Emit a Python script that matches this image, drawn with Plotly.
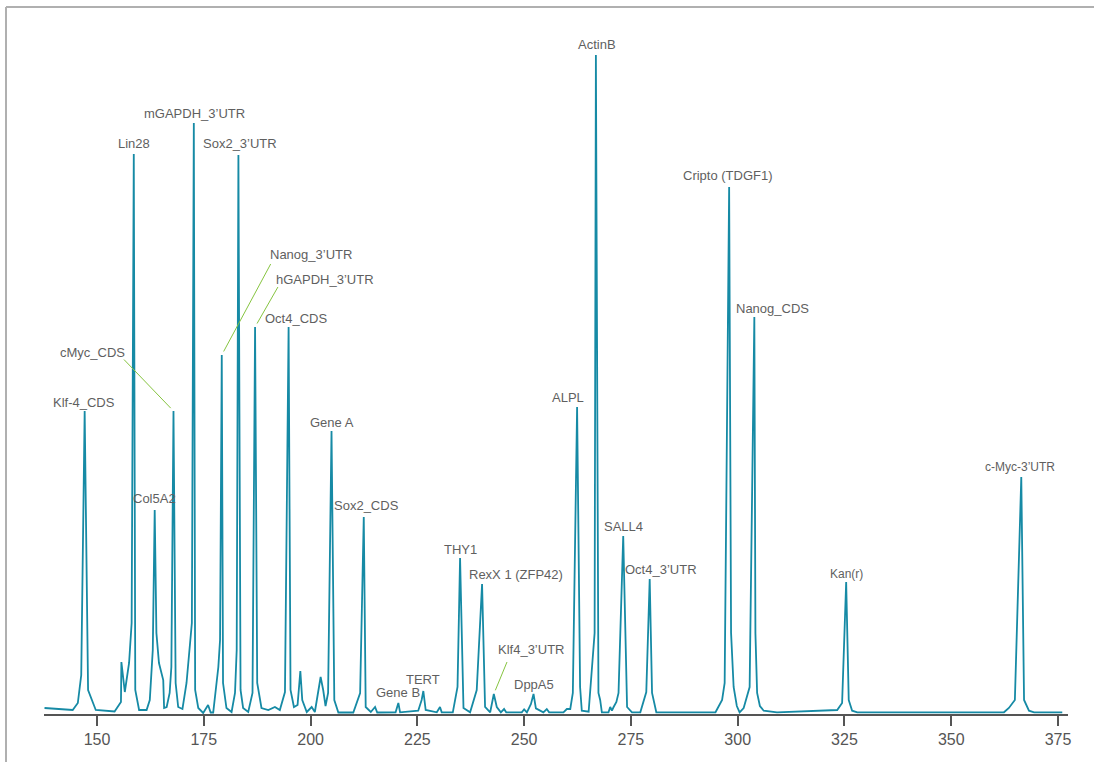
import plotly.graph_objects as go
import numpy as np

# Trace (size in bp vs. signal)
size_bp = [137.7, 144.3, 145.5, 146.3, 147.1, 147.9, 149.7, 154.1, 155.6, 155.7, 156.5, 157.5, 158.1, 158.6,
           158.95, 159.85, 161.6, 162.35, 163.05, 163.5, 163.9, 164.5, 165.5, 165.7, 166.3, 167.0, 167.4, 167.9,
           168.4, 169.0, 170.0, 170.95, 172.2, 172.66, 172.97, 173.7, 174.85, 176.0, 176.6, 177.2, 178.4, 178.8,
           179.2, 179.5, 180.3, 181.5, 182.3, 182.7, 183.1, 183.6, 184.2, 185.4, 186.4, 187.0, 187.5, 188.5,
           190.1, 191.65, 192.8, 194.0, 194.85, 195.3, 196.1, 196.95, 197.6, 198.05, 199.1, 200.25, 201.0,
           202.35, 202.95, 203.5, 204.1, 204.9, 205.55, 206.5, 210.0, 211.6, 212.45, 212.9, 214.1, 215.1, 215.6,
           219.9, 220.55, 220.95, 225.2, 226.0, 226.4, 226.95, 229.55, 230.3, 230.7, 233.3, 234.4, 235.0, 235.8,
           237.35, 238.9, 240.15, 240.85, 242.05, 242.9, 243.6, 244.55, 245.3, 245.8, 249.45, 250.0, 250.65,
           251.6, 252.2, 252.75, 254.5, 255.3, 255.85, 259.2, 260.0, 260.8, 261.4, 262.4, 263.1, 263.5, 265.1,
           266.5, 266.8, 267.4, 267.8, 268.2, 269.75, 270.15, 270.55, 270.95, 271.6, 272.1, 273.2, 274.1, 275.25,
           277.2, 278.6, 279.4, 279.95, 280.95, 294.8, 296.35, 296.95, 298.0, 298.45, 299.05, 299.8, 300.45, 301.4,
           302.8, 303.9, 304.15, 304.55, 305.2, 306.1, 309.2, 323.3, 324.45, 325.4, 326.0, 326.8, 328.0, 362.35,
           363.5, 364.9, 366.4, 367.05, 368.2, 369.4, 376.0]
signal = [5, 3, 10, 38, 302, 23, 3, 1.5, 11, 51, 21, 50, 90, 559,
          23, 3, 3, 13, 63, 203, 80, 50, 33, 5, 6, 20, 46, 302,
          30, 6, 4, 30, 90, 590, 23, 5, 0, 8, 0.5, 0.5, 46, 73,
          358, 30, 5, 1, 20, 63, 558, 23, 5, 1, 20, 386, 30, 5,
          3, 6, 3, 21, 386, 23, 6, 8, 42, 13, 1, 6, 1,
          36, 23, 7, 20, 282, 13, 0.5, 0.5, 20, 196, 6, 1, 6, 0.5,
          0.7, 10, 0.7, 2.3, 13, 22, 3, 0.7, 6, 0.7, 0.7, 26, 155, 5,
          0.7, 23, 129, 6, 0.7, 19, 6, 0.7, 4, 0.7, 0.7, 3.7, 0.7,
          9, 19, 4.7, 0.7, 4, 0.7, 0.7, 4, 4, 20, 306, 26, 2.3, 1.3,
          80, 658, 20, 13, 0.7, 0.7, 6, 2.3, 6, 11, 20, 177, 6, 0.7,
          0.7, 21, 134, 20, 0.7, 0.7, 13, 30, 526, 80, 26, 7, 0.7, 5,
          26, 396, 80, 20, 7, 2.3, 0.7, 3, 10, 131, 13, 2.3, 0.7, 0.7,
          5, 13, 236, 13, 2.3, 0.7, 0.7]

# Peak labels and their peak sizes (bp)
peak_labels = ["Klf-4_CDS", "Lin28", "Col5A2", "cMyc_CDS", "mGAPDH_3’UTR", "Nanog_3’UTR", "Sox2_3’UTR",
               "hGAPDH_3’UTR", "Oct4_CDS", "Gene A", "Sox2_CDS", "Gene B", "TERT", "THY1", "RexX 1 (ZFP42)",
               "Klf4_3’UTR", "DppA5", "ALPL", "ActinB", "SALL4", "Oct4_3’UTR", "Cripto (TDGF1)", "Nanog_CDS",
               "Kan(r)", "c-Myc-3’UTR"]
peak_sizes = [147.1, 158.6, 163.5, 167.9, 172.66, 179.2, 183.1, 187.0, 194.85, 204.9, 212.45, 220.55, 226.4,
              235.0, 240.15, 242.9, 252.2, 262.4, 266.8, 273.2, 279.4, 298.0, 303.9, 325.4, 366.4]

# label placement (pixel offsets from peak top): xshift, yshift (label centre)
label_style = {
    "Klf-4_CDS": (-1, 9), "Lin28": (0, 11), "Col5A2": (0, 12), "cMyc_CDS": (-81, 59),
    "mGAPDH_3’UTR": (1, 10), "Nanog_3’UTR": (89, 101), "Sox2_3’UTR": (2, 12), "hGAPDH_3’UTR": (70, 48),
    "Oct4_CDS": (7, 9), "Gene A": (0, 9), "Sox2_CDS": (3, 12), "Gene B": (0, 11), "TERT": (0, 12),
    "THY1": (0, 9), "RexX 1 (ZFP42)": (34, 10), "Klf4_3’UTR": (37, 45), "DppA5": (0, 10), "ALPL": (-9, 10),
    "ActinB": (1, 11), "SALL4": (0, 10), "Oct4_3’UTR": (11, 10), "Cripto (TDGF1)": (-1, 12),
    "Nanog_CDS": (18, 9), "Kan(r)": (0, 8), "c-Myc-3’UTR": (-1, 10),
}
# leader lines (tail offset in pixels from the peak top)
leaders = {"cMyc_CDS": (-51, -53), "Nanog_3’UTR": (50, -93), "hGAPDH_3’UTR": (24, -42), "Klf4_3’UTR": (14, -34)}

tick_vals = [150, 175, 200, 225, 250, 275, 300, 325, 350, 375]

xs = np.array(size_bp)
ys = np.array(signal)

fig = go.Figure()
fig.add_trace(go.Scatter(x=size_bp, y=signal, mode="lines",
                         line=dict(color="#168aa5", width=1.8), hoverinfo="x+y", showlegend=False))

annotations = []
for lab, px in zip(peak_labels, peak_sizes):
    mask = np.abs(xs - px) < 0.6
    py = float(ys[mask].max())
    dx, dy = label_style[lab]
    small = lab in ("Kan(r)", "c-Myc-3’UTR")
    annotations.append(dict(x=px, y=py, xref="x", yref="y", text=lab, showarrow=False,
                            xanchor="center", yanchor="middle", xshift=dx, yshift=dy,
                            font=dict(family="Liberation Sans, Arial, sans-serif",
                                      size=12 if small else 13, color="#5f5f5f")))
    if lab in leaders:
        ax, ay = leaders[lab]
        annotations.append(dict(x=px, y=py, xref="x", yref="y", text=" ", showarrow=True,
                                ax=ax, ay=ay, arrowhead=0, arrowwidth=1, arrowcolor="#86c440",
                                standoff=4, font=dict(size=1)))

fig.update_layout(
    width=1094, height=762,
    margin=dict(l=44, r=26, t=21, b=48),
    paper_bgcolor="white", plot_bgcolor="white",
    annotations=annotations,
    xaxis=dict(range=[137.58, 377.34], tickvals=tick_vals, showgrid=False, zeroline=False,
               showline=True, linecolor="#555555", linewidth=2,
               ticks="outside", ticklen=10, tickwidth=2, tickcolor="#555555",
               tickfont=dict(family="Liberation Sans, Arial, sans-serif", size=16, color="#555555")),
    yaxis=dict(range=[-1, 692], visible=False, showgrid=False, zeroline=False),
    shapes=[
        dict(type="line", xref="paper", yref="paper", x0=-0.0371, x1=-0.0371, y0=-0.08, y1=1.0202,
             line=dict(color="#b0b0b0", width=2)),
        dict(type="line", xref="paper", yref="paper", x0=-0.0371, x1=1.03, y0=1.0202, y1=1.0202,
             line=dict(color="#b0b0b0", width=2)),
    ],
)

fig.write_html("out.html", config={"displayModeBar": False},
               post_script="document.body.style.margin='0';document.body.style.overflow='hidden';")
